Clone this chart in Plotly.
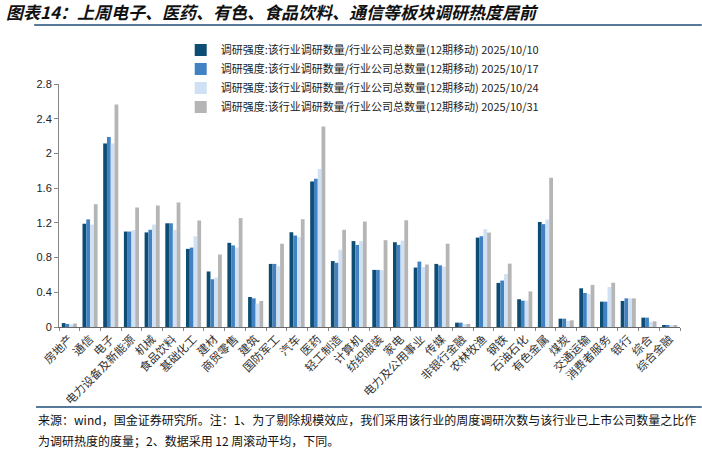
import plotly.graph_objects as go

categories = ["房地产", "通信", "电子", "电力设备及新能源", "机械", "食品饮料", "基础化工", "建材",
              "商贸零售", "建筑", "国防军工", "汽车", "医药", "轻工制造", "计算机", "纺织服装", "家电",
              "电力及公用事业", "传媒", "非银行金融", "农林牧渔", "钢铁", "石油石化", "有色金属", "煤炭",
              "交通运输", "消费者服务", "银行", "综合", "综合金融"]

s_1010 = [0.045, 1.19, 2.115, 1.10, 1.09, 1.195, 0.90, 0.64, 0.97, 0.346, 0.727, 1.092, 1.677, 0.76, 0.99,
          0.658, 0.977, 0.685, 0.727, 0.05, 1.03, 0.508, 0.32, 1.21, 0.096, 0.446, 0.292, 0.30, 0.108, 0.02]
s_1017 = [0.035, 1.24, 2.19, 1.10, 1.12, 1.195, 0.915, 0.55, 0.94, 0.33, 0.727, 1.054, 1.708, 0.74, 0.946,
          0.658, 0.946, 0.754, 0.71, 0.05, 1.046, 0.535, 0.304, 1.185, 0.096, 0.392, 0.292, 0.33, 0.108, 0.02]
s_1024 = [0.03, 1.18, 2.115, 1.115, 1.18, 1.12, 1.045, 0.57, 0.915, 0.27, 0.70, 1.035, 1.82, 0.89, 0.99,
          0.654, 0.996, 0.69, 0.696, 0.035, 1.127, 0.61, 0.304, 1.238, 0.07, 0.38, 0.46, 0.33, 0.06, 0.015]
s_1031 = [0.04, 1.415, 2.565, 1.377, 1.40, 1.435, 1.227, 0.835, 1.254, 0.30, 0.96, 1.242, 2.31, 1.12, 1.215,
          1.0, 1.23, 0.72, 0.96, 0.035, 1.088, 0.73, 0.41, 1.72, 0.077, 0.485, 0.51, 0.33, 0.065, 0.02]

series_names = ["调研强度:该行业调研数量/行业公司总数量(12期移动) 2025/10/10",
                "调研强度:该行业调研数量/行业公司总数量(12期移动) 2025/10/17",
                "调研强度:该行业调研数量/行业公司总数量(12期移动) 2025/10/24",
                "调研强度:该行业调研数量/行业公司总数量(12期移动) 2025/10/31"]
colors = ["#0D4D74", "#4282C3", "#CFE1F3", "#B5B5B5"]
y_ticks = [0, 0.4, 0.8, 1.2, 1.6, 2.0, 2.4, 2.8]
y_tick_text = ["0", "0.4", "0.8", "1.2", "1.6", "2", "2.4", "2.8"]

font_cjk = "Noto Sans CJK SC"

fig = go.Figure()
for i, (name, vals) in enumerate(zip(series_names, [s_1010, s_1017, s_1024, s_1031])):
    fig.add_trace(go.Bar(x=categories, y=vals, name=name, marker_color=colors[i],
                         marker_line_width=0))

fig.update_layout(
    width=702, height=451,
    margin=dict(l=59, r=22, t=84, b=124, autoexpand=False),
    paper_bgcolor="white", plot_bgcolor="white",
    barmode="group", bargap=0.27, bargroupgap=0,
    font=dict(family=font_cjk, color="#222222"),
    showlegend=True,
    legend=dict(x=0.196, y=1.2, xanchor="left", yanchor="top",
                bgcolor="rgba(0,0,0,0)", font=dict(size=11, family=font_cjk),
                itemwidth=30, tracegroupgap=0),
    xaxis=dict(showline=True, linecolor="#666666", linewidth=1, ticks="outside",
               tickson="boundaries", ticklen=3, tickcolor="#888888", automargin=False,
               tickangle=-45, tickfont=dict(size=11.5, family=font_cjk, color="#333333"),
               showgrid=False),
    yaxis=dict(range=[0, 2.8], tickvals=y_ticks, ticktext=y_tick_text, showline=True,
               linecolor="#888888", linewidth=1, ticks="outside", ticklen=4, tickcolor="#888888",
               tickfont=dict(size=11, family="Liberation Sans", color="#222222"),
               showgrid=False, zeroline=False, automargin=False),
    shapes=[
        dict(type="line", xref="paper", yref="paper", x0=-0.04, x1=1.035, y0=1.243, y1=1.243,
             line=dict(color="#1F4E79", width=1.5)),
        dict(type="line", xref="paper", yref="paper", x0=-0.037, x1=1.035, y0=-0.329, y1=-0.329,
             line=dict(color="#1F4E79", width=1.5)),
    ],
    annotations=[
        dict(text="<b><i>图表14：上周电子、医药、有色、食品饮料、通信等板块调研热度居前</i></b>",
             xref="paper", yref="paper", x=-0.088, y=1.3, xanchor="left", yanchor="middle",
             showarrow=False, font=dict(size=17, family=font_cjk, color="#111111")),
        dict(text="来源：wind，国金证券研究所。注：1、为了剔除规模效应，我们采用该行业的周度调研次数与该行业已上市公司数量之比作",
             xref="paper", yref="paper", x=-0.037, y=-0.38, xanchor="left", yanchor="middle",
             showarrow=False, font=dict(size=12, family=font_cjk, color="#111111")),
        dict(text="为调研热度的度量；2、数据采用 12 周滚动平均，下同。",
             xref="paper", yref="paper", x=-0.037, y=-0.468, xanchor="left", yanchor="middle",
             showarrow=False, font=dict(size=12, family=font_cjk, color="#111111")),
    ],
)

fig.write_html("out.html", config={"displayModeBar": False},
               post_script="document.body.style.margin='0';document.body.style.overflow='hidden';")
